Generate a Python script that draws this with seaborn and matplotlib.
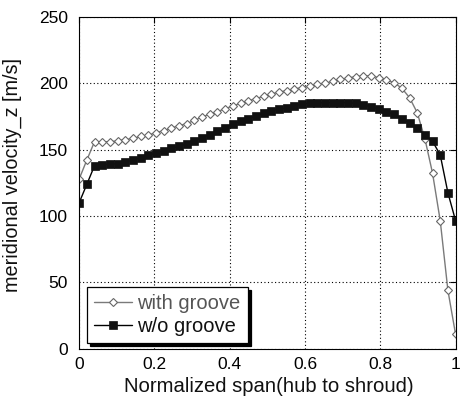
import matplotlib
matplotlib.use("Agg")
import matplotlib.pyplot as plt
import seaborn as sns
import pandas as pd

# Normalized span stations (hub = 0, shroud = 1), 50 evenly spaced samples
span = [0.0, 0.0204, 0.0408, 0.0612, 0.0816, 0.1020, 0.1224, 0.1429, 0.1633, 0.1837,
        0.2041, 0.2245, 0.2449, 0.2653, 0.2857, 0.3061, 0.3265, 0.3469, 0.3673, 0.3878,
        0.4082, 0.4286, 0.4490, 0.4694, 0.4898, 0.5102, 0.5306, 0.5510, 0.5714, 0.5918,
        0.6122, 0.6327, 0.6531, 0.6735, 0.6939, 0.7143, 0.7347, 0.7551, 0.7755, 0.7959,
        0.8163, 0.8367, 0.8571, 0.8776, 0.8980, 0.9184, 0.9388, 0.9592, 0.9796, 1.0]

# Meridional velocity [m/s]
with_groove = [127.9, 142.2, 156.0, 156.0, 156.0, 156.6, 157.6, 158.4, 160.0, 161.0,
               162.8, 164.3, 166.3, 168.1, 169.6, 172.1, 174.5, 176.9, 178.6, 180.9,
               182.9, 185.0, 186.7, 188.5, 190.2, 192.0, 193.3, 194.5, 195.8, 196.7,
               198.0, 199.3, 200.0, 201.5, 203.0, 204.0, 205.0, 205.6, 205.6, 204.3,
               202.5, 200.5, 196.3, 189.2, 177.9, 158.3, 132.2, 96.4, 43.9, 10.7]
without_groove = [110.0, 123.9, 137.9, 138.7, 139.0, 139.4, 140.7, 142.2, 143.7, 146.0,
                  147.2, 149.2, 151.0, 152.5, 154.3, 156.8, 159.1, 161.3, 163.8, 166.5,
                  169.0, 171.5, 173.0, 175.5, 177.5, 179.3, 180.5, 181.5, 183.0, 184.2,
                  185.0, 185.3, 185.4, 185.4, 185.4, 185.4, 184.9, 183.6, 182.4, 180.4,
                  178.7, 176.7, 173.1, 170.3, 166.1, 161.3, 156.3, 146.0, 117.5, 96.4]

labels = ["with groove", "w/o groove"]
x_ticks = [0, 0.2, 0.4, 0.6, 0.8, 1]
x_tick_labels = ["0", "0.2", "0.4", "0.6", "0.8", "1"]
y_ticks = [0, 50, 100, 150, 200, 250]

sns.set_style("white")
plt.rcParams["font.family"] = ["Liberation Sans", "DejaVu Sans"]

fig = plt.figure(figsize=(4.63, 4.04), dpi=100)
ax = fig.add_axes([0.171, 0.137, 0.813, 0.821])

df_g = pd.DataFrame({"span": span, "v": with_groove})
df_n = pd.DataFrame({"span": span, "v": without_groove})

sns.lineplot(data=df_g, x="span", y="v", ax=ax, sort=False, color="#7a7a7a",
             linewidth=1.0, marker="D", markersize=3.8, markerfacecolor="white",
             markeredgecolor="#666666", markeredgewidth=0.8, label=labels[0])
sns.lineplot(data=df_n, x="span", y="v", ax=ax, sort=False, color="black",
             linewidth=1.0, marker="s", markersize=5.2, markerfacecolor="#111111",
             markeredgecolor="#111111", markeredgewidth=0.5, label=labels[1])

ax.set_xlim(0, 1)
ax.set_ylim(0, 250)
ax.set_xticks(x_ticks)
ax.set_xticklabels(x_tick_labels)
ax.set_yticks(y_ticks)
ax.tick_params(direction="in", length=4, width=0.8, top=True, right=True,
               labelsize=12.5, colors="black")
ax.tick_params(axis="x", pad=6)
ax.tick_params(axis="y", pad=8)
ax.grid(True, color="black", linestyle=(0, (1, 2.2)), linewidth=0.8)
for s in ax.spines.values():
    s.set_color("black")
    s.set_linewidth(0.8)

ax.set_xlabel("Normalized span(hub to shroud)", fontsize=14.6, color="#111111")
ax.set_ylabel("meridional velocity_z [m/s]", fontsize=14.3, color="#111111")
ax.xaxis.set_label_coords(0.504, -0.085)
ax.yaxis.set_label_coords(-0.152, 0.525)

leg = ax.legend(loc="lower left", bbox_to_anchor=(0.021, 0.0175), frameon=True,
                fancybox=False, shadow={"color": "black", "alpha": 1.0},
                edgecolor="black", framealpha=1.0, fontsize=14.5, numpoints=1,
                handlelength=1.9, handletextpad=0.25, borderpad=0.35,
                labelspacing=0.18, borderaxespad=0.0)
leg.get_frame().set_linewidth(0.9)
leg.get_texts()[0].set_color("#555555")
leg.get_texts()[1].set_color("#111111")

fig.savefig("out.png", dpi=100)
